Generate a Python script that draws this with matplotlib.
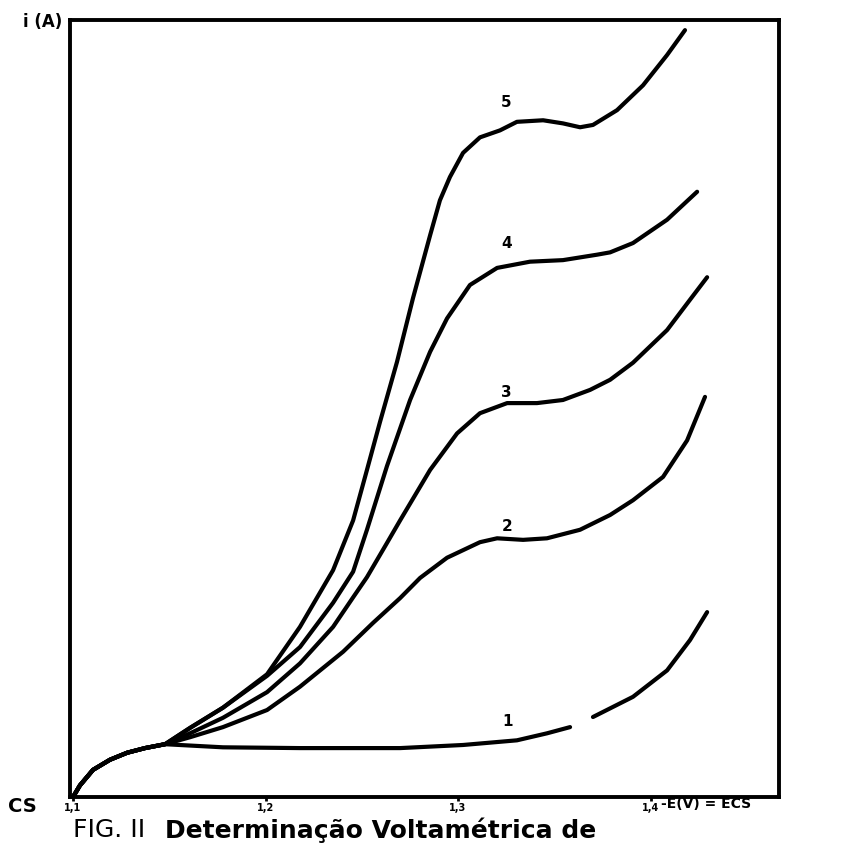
import matplotlib
matplotlib.use('Agg')
import matplotlib.pyplot as plt
import numpy as np

# potential -E (V) vs ECS and current i (arbitrary units, 0-100)
start_E = [1.1000, 1.1036, 1.1104, 1.1192, 1.1281, 1.1374, 1.1478]
start_i = [0.0, 1.5, 3.5, 4.8, 5.7, 6.3, 6.8]

c1_E = [1.1779, 1.2179, 1.2699, 1.3026, 1.3306, 1.3462, 1.3582, np.nan,
        1.3701, 1.3909, 1.4086, 1.4205, 1.4294]
c1_i = [6.4, 6.3, 6.3, 6.7, 7.3, 8.2, 9.0, np.nan,
        10.3, 12.9, 16.3, 20.2, 23.8]

c2_E = [1.1608, 1.1779, 1.2008, 1.2179, 1.2403, 1.2558, 1.2699, 1.2803,
        1.2943, 1.3114, 1.3203, 1.3338, 1.3462, 1.3634, 1.3790, 1.3909,
        1.4065, 1.4190, 1.4283]
c2_i = [7.7, 9.0, 11.2, 14.2, 18.7, 22.4, 25.6, 28.2,
        30.8, 32.8, 33.3, 33.1, 33.3, 34.4, 36.3, 38.2,
        41.2, 45.9, 51.5]

c3_E = [1.1608, 1.1779, 1.2008, 1.2179, 1.2351, 1.2455, 1.2527, 1.2631,
        1.2699, 1.2855, 1.2995, 1.3114, 1.3255, 1.3410, 1.3545, 1.3686,
        1.3790, 1.3909, 1.4086, 1.4205, 1.4294]
c3_i = [8.2, 10.2, 13.5, 17.2, 21.9, 25.7, 28.3, 32.7,
        35.6, 42.1, 46.8, 49.4, 50.7, 50.7, 51.1, 52.4,
        53.7, 55.9, 60.1, 64.0, 66.9]

c4_E = [1.1608, 1.1779, 1.2008, 1.2179, 1.2351, 1.2455, 1.2527, 1.2631,
        1.2751, 1.2855, 1.2943, 1.3062, 1.3203, 1.3374, 1.3545, 1.3722,
        1.3790, 1.3909, 1.4086, 1.4242]
c4_i = [8.9, 11.5, 15.6, 19.3, 25.0, 29.0, 34.4, 42.6,
        51.1, 57.3, 61.6, 65.9, 68.1, 68.9, 69.1, 69.8,
        70.1, 71.3, 74.3, 77.9]

c5_E = [1.1608, 1.1779, 1.2008, 1.2179, 1.2351, 1.2455, 1.2527, 1.2595,
        1.2683, 1.2766, 1.2855, 1.2906, 1.2958, 1.3026, 1.3114, 1.3218,
        1.3306, 1.3442, 1.3545, 1.3634, 1.3701, 1.3826, 1.3961, 1.4086,
        1.4179]
c5_i = [8.9, 11.5, 15.8, 21.9, 29.2, 35.6, 42.1, 48.3,
        56.0, 64.2, 72.3, 76.8, 79.8, 82.9, 84.9, 85.8,
        86.9, 87.1, 86.7, 86.2, 86.5, 88.4, 91.6, 95.5,
        98.7]

curves = [(c1_E, c1_i), (c2_E, c2_i), (c3_E, c3_i), (c4_E, c4_i), (c5_E, c5_i)]
labels = ['1', '2', '3', '4', '5']
label_E = [1.3255, 1.3255, 1.3250, 1.3250, 1.3250]
label_i = [9.7, 34.8, 52.1, 71.3, 89.4]

ticks = [1.1, 1.2, 1.3, 1.4]
tick_labels = ['1,1', '1,2', '1,3', '1,4']

fig = plt.figure(figsize=(8.59, 8.49), dpi=100)
ax = fig.add_axes([0.0815, 0.0612, 0.8254, 0.9152])

for E, i in curves:
    ax.plot(start_E + E, start_i + i, color='black', lw=3.0,
            solid_capstyle='round', solid_joinstyle='round')

for lab, x, y in zip(labels, label_E, label_i):
    ax.text(x, y, lab, fontsize=11, fontweight='bold', ha='center', va='center')

ax.set_xlim(1.09844, 1.46675)
ax.set_ylim(0, 100)
ax.set_yticks([])
ax.set_xticks(ticks)
ax.set_xticklabels(tick_labels, fontsize=7, fontweight='bold')
ax.tick_params(axis='x', direction='out', length=3, width=2, pad=1)
for s in ax.spines.values():
    s.set_linewidth(2.8)

fig.text(62 / 859, 1 - 22 / 849, 'i (A)', fontsize=12, fontweight='bold',
         ha='right', va='center')
fig.text(22 / 859, 1 - 806 / 849, 'CS', fontsize=14, fontweight='bold',
         ha='center', va='center')
fig.text(706 / 859, 1 - 804 / 849, '-E(V) = ECS', fontsize=10, fontweight='bold',
         ha='center', va='center')
fig.text(73 / 859, 1 - 830 / 849, 'FIG. II', fontsize=18,
         ha='left', va='center')
fig.text(165 / 859, 1 - 830 / 849, 'Determinação Voltamétrica de', fontsize=18,
         fontweight='bold', ha='left', va='center')

fig.savefig('out.png', dpi=100)
